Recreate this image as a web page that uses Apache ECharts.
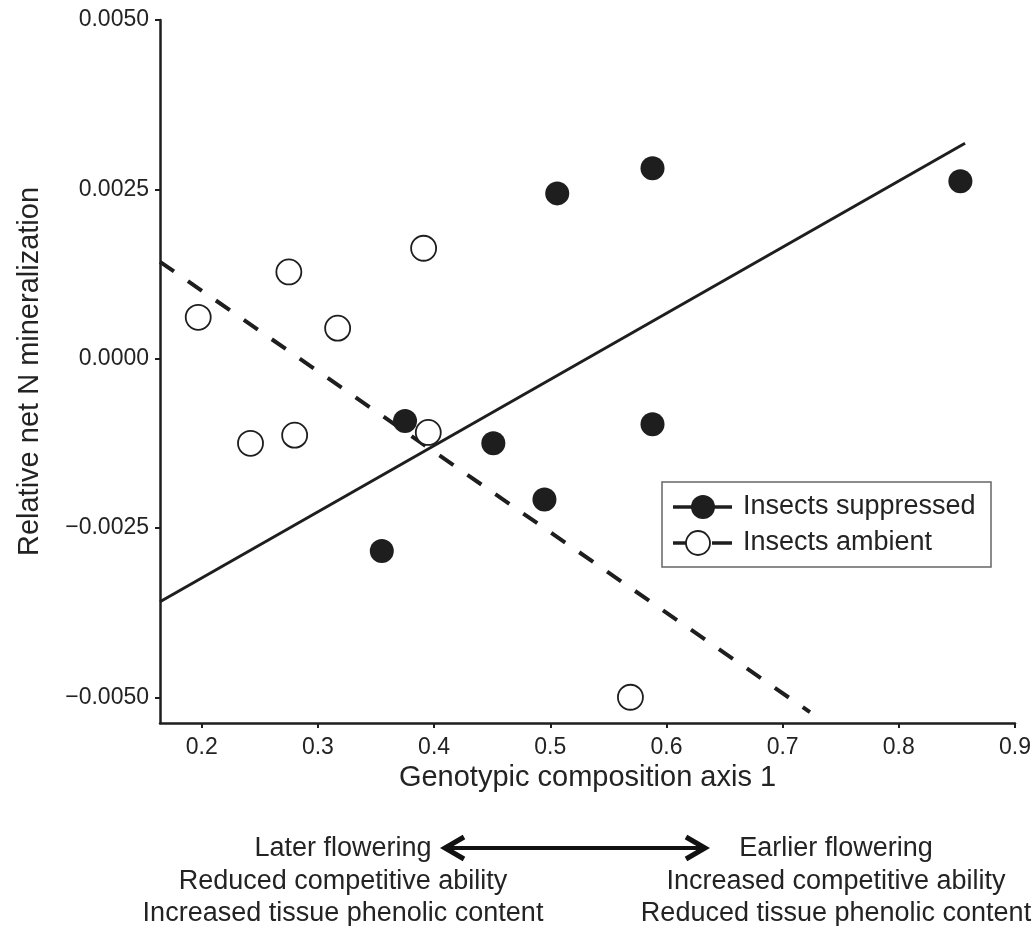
<!DOCTYPE html>
<html>
<head>
<meta charset="utf-8">
<script src="https://cdn.jsdelivr.net/npm/echarts@6/dist/echarts.min.js"></script>
<style>
html,body{margin:0;padding:0;background:#fff;}
#chart{width:1035px;height:926px;}
</style>
</head>
<body>
<div id="chart"></div>
<script>
// Insects suppressed (filled circles)
var suppressedX = [0.506, 0.588, 0.853, 0.375, 0.451, 0.588, 0.495, 0.355];
var suppressedY = [0.00244, 0.00281, 0.00262, -0.00092, -0.00125, -0.00097, -0.00208, -0.00284];
// Insects ambient (open circles)
var ambientX = [0.197, 0.275, 0.391, 0.317, 0.242, 0.280, 0.395, 0.569];
var ambientY = [0.00061, 0.00128, 0.00163, 0.00045, -0.00125, -0.00113, -0.00109, -0.00500];
// Regression line endpoints
var suppressedLineX = [0.1641, 0.857];
var suppressedLineY = [-0.00359, 0.00318];
var ambientLineX = [0.1641, 0.7235];
var ambientLineY = [0.00143, -0.00522];
// Tick values
var xTicks = [0.2, 0.3, 0.4, 0.5, 0.6, 0.7, 0.8, 0.9];
var yTicks = [-0.005, -0.0025, 0, 0.0025, 0.005];
// Texts
var xTitle = 'Genotypic composition axis 1';
var yTitle = 'Relative net N mineralization';
var seriesNames = ['Insects suppressed', 'Insects ambient'];
var leftNotes = ['Later flowering', 'Reduced competitive ability', 'Increased tissue phenolic content'];
var rightNotes = ['Earlier flowering', 'Increased competitive ability', 'Reduced tissue phenolic content'];

function zip(xs, ys) { return xs.map(function (x, i) { return [x, ys[i]]; }); }

var FONT = '"Liberation Sans", Arial, Helvetica, sans-serif';
var INK = '#1e1e1e';
var TXT = '#232323';

var chart = echarts.init(document.getElementById('chart'), null, {renderer: 'canvas'});

function noteTexts(lines, cx) {
  return lines.map(function (t, i) {
    return {
      type: 'text', silent: true,
      style: {text: t, x: cx, y: 849 + i * 32.5, align: 'center', verticalAlign: 'middle',
              font: '27px ' + FONT, fill: TXT}
    };
  });
}

var graphics = [].concat(
  noteTexts(leftNotes, 343),
  noteTexts(rightNotes, 836),
  [
    {type: 'line', silent: true, shape: {x1: 446, y1: 848, x2: 704, y2: 848}, style: {stroke: '#111', lineWidth: 4}},
    {type: 'polyline', silent: true, shape: {points: [[464, 837], [445, 848], [464, 859]]}, style: {stroke: '#111', lineWidth: 5, fill: null}},
    {type: 'polyline', silent: true, shape: {points: [[686, 837], [705, 848], [686, 859]]}, style: {stroke: '#111', lineWidth: 5, fill: null}},
    // legend box
    {type: 'rect', silent: true, shape: {x: 662, y: 482, width: 329, height: 85}, style: {fill: '#fff', stroke: '#666', lineWidth: 1.5}, z: 50},
    {type: 'line', silent: true, shape: {x1: 673, y1: 507, x2: 732, y2: 507}, style: {stroke: INK, lineWidth: 3.5}, z: 51},
    {type: 'circle', silent: true, shape: {cx: 703, cy: 507, r: 12}, style: {fill: INK}, z: 52},
    {type: 'text', silent: true, style: {text: seriesNames[0], x: 743, y: 507, verticalAlign: 'middle', font: '27px ' + FONT, fill: TXT}, z: 52},
    {type: 'line', silent: true, shape: {x1: 673, y1: 543, x2: 690, y2: 543}, style: {stroke: INK, lineWidth: 3.5}, z: 51},
    {type: 'line', silent: true, shape: {x1: 712, y1: 543, x2: 732, y2: 543}, style: {stroke: INK, lineWidth: 3.5}, z: 51},
    {type: 'circle', silent: true, shape: {cx: 698, cy: 543, r: 12}, style: {fill: '#fff', stroke: INK, lineWidth: 1.8}, z: 52},
    {type: 'text', silent: true, style: {text: seriesNames[1], x: 743, y: 543, verticalAlign: 'middle', font: '27px ' + FONT, fill: TXT}, z: 52}
  ]
);

var option = {
  backgroundColor: '#fff',
  animation: false,
  grid: {left: 160, right: 20, top: 20, bottom: 203, containLabel: false},
  xAxis: {
    type: 'value', min: 0.1641, max: 0.9,
    name: xTitle, nameLocation: 'middle', nameGap: 35,
    nameTextStyle: {fontFamily: FONT, fontSize: 29, color: TXT},
    splitLine: {show: false},
    axisLine: {show: true, onZero: false, lineStyle: {color: INK, width: 2.5}},
    axisTick: {show: true, length: 5, customValues: xTicks, lineStyle: {color: INK, width: 2}},
    axisLabel: {customValues: xTicks, margin: 13, fontFamily: FONT, fontSize: 23, color: TXT,
      formatter: function (v) { return v.toFixed(1); }}
  },
  yAxis: {
    type: 'value', min: -0.00538, max: 0.005,
    name: yTitle, nameLocation: 'middle', nameGap: 116,
    nameTextStyle: {fontFamily: FONT, fontSize: 29, color: TXT},
    splitLine: {show: false},
    axisLine: {show: true, onZero: false, lineStyle: {color: INK, width: 2.5}},
    axisTick: {show: true, length: 5, customValues: yTicks, lineStyle: {color: INK, width: 2}},
    axisLabel: {customValues: yTicks, margin: 11, fontFamily: FONT, fontSize: 23, color: TXT,
      formatter: function (v) { var s = Math.abs(v).toFixed(4); return v < 0 ? '\u2212' + s : s; }}
  },
  series: [
    {
      type: 'line', name: seriesNames[0] + ' fit', data: zip(suppressedLineX, suppressedLineY),
      showSymbol: false, symbol: 'none', silent: true, z: 2,
      lineStyle: {color: INK, width: 3}
    },
    {
      type: 'line', name: seriesNames[1] + ' fit', data: zip(ambientLineX, ambientLineY),
      showSymbol: false, symbol: 'none', silent: true, z: 2,
      lineStyle: {color: INK, width: 4, type: [17, 17]}
    },
    {
      type: 'scatter', name: seriesNames[0], data: zip(suppressedX, suppressedY),
      symbol: 'circle', symbolSize: 24, z: 5,
      itemStyle: {color: INK, opacity: 1}
    },
    {
      type: 'scatter', name: seriesNames[1], data: zip(ambientX, ambientY),
      symbol: 'circle', symbolSize: 25, z: 5,
      itemStyle: {color: '#fff', borderColor: INK, borderWidth: 1.8, opacity: 1}
    }
  ],
  graphic: graphics
};
chart.setOption(option);
</script>
</body>
</html>
